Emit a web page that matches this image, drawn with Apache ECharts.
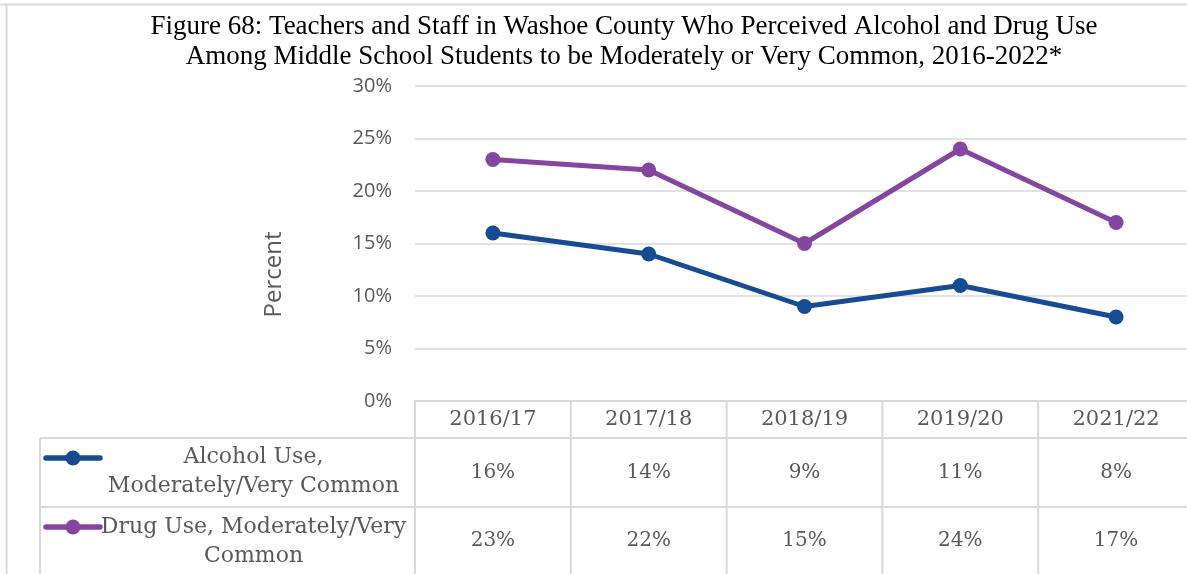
<!DOCTYPE html>
<html>
<head>
<meta charset="utf-8">
<script src="https://cdn.jsdelivr.net/npm/echarts@6/dist/echarts.min.js"></script>
<style>
  html, body { margin: 0; padding: 0; background: #fff; overflow: hidden; }
  /* canvas runs a few pixels past the right edge so the last column is cut off */
  #chart { width: 1194px; height: 574px; }
</style>
</head>
<body>
<div id="chart"></div>
<script>
// School years shown along the x axis / table header
const years = ['2016/17', '2017/18', '2018/19', '2019/20', '2021/22'];
// Percent of teachers and staff rating use as moderately or very common
const alcoholUse = [16, 14, 9, 11, 8];
const drugUse = [23, 22, 15, 24, 17];
// Series names shown in the data table
const alcoholName = ['Alcohol Use,', 'Moderately/Very Common'];
const drugName = ['Drug Use, Moderately/Very', 'Common'];
// Y axis range
const yMin = 0, yMax = 30, yStep = 5;

const BLUE = '#174B93';
const PURPLE = '#8546A0';
const GRID_LINE = '#D9D9D9';
const TEXT = '#595959';
const SERIF = '"DejaVu Serif", serif';
const SANS = '"Open Sans", sans-serif';

const chart = echarts.init(document.getElementById('chart'), null, { renderer: 'canvas' });

const valueAxisRow = (values, offset) => ({
  type: 'category',
  data: years,
  gridIndex: 0,
  position: 'bottom',
  offset: offset,
  axisLine: { show: false },
  axisTick: { show: false },
  splitLine: { show: false },
  axisLabel: {
    margin: 0,
    verticalAlign: 'middle',
    fontFamily: SERIF,
    fontSize: 20,
    color: TEXT,
    formatter: (v, i) => values[i] + '%'
  }
});

chart.setOption({
  animation: false,
  title: {
    text: 'Figure 68: Teachers and Staff in Washoe County Who Perceived Alcohol and Drug Use\nAmong Middle School Students to be Moderately or Very Common, 2016-2022*',
    left: 619,
    top: 7,
    textAlign: 'center',
    textStyle: {
      fontFamily: '"Liberation Serif", serif',
      fontWeight: 'normal',
      fontSize: 27,
      lineHeight: 30,
      color: '#000'
    }
  },
  grid: { left: 415, right: 0, top: 86, height: 315 },
  yAxis: {
    type: 'value',
    min: yMin,
    max: yMax,
    interval: yStep,
    axisLine: { show: false },
    axisTick: { show: false },
    axisLabel: {
      margin: 23,
      fontFamily: SANS,
      fontSize: 20,
      color: TEXT,
      formatter: '{value}%'
    },
    splitLine: { lineStyle: { color: GRID_LINE, width: 1.5 } }
  },
  xAxis: [
    {
      type: 'category',
      data: years,
      gridIndex: 0,
      position: 'bottom',
      axisLine: { show: true, lineStyle: { color: GRID_LINE, width: 2 } },
      axisTick: { show: false },
      axisLabel: {
        margin: 19,
        verticalAlign: 'middle',
        fontFamily: SERIF,
        fontSize: 21,
        color: TEXT
      }
    },
    valueAxisRow(alcoholUse, 72),
    valueAxisRow(drugUse, 140)
  ],
  series: [
    {
      name: 'Alcohol Use, Moderately/Very Common',
      type: 'line',
      data: alcoholUse,
      symbol: 'circle',
      symbolSize: 15,
      color: BLUE,
      lineStyle: { color: BLUE, width: 5 },
      itemStyle: { color: BLUE }
    },
    {
      name: 'Drug Use, Moderately/Very Common',
      type: 'line',
      data: drugUse,
      symbol: 'circle',
      symbolSize: 15,
      color: PURPLE,
      lineStyle: { color: PURPLE, width: 5 },
      itemStyle: { color: PURPLE }
    }
  ]
});

// Data-table rules, y-axis title and row headers, placed from the axis geometry
function drawTable() {
  const W = chart.getWidth();
  const H = chart.getHeight();
  const baseY = chart.convertToPixel({ yAxisIndex: 0 }, 0);
  const topY = chart.convertToPixel({ yAxisIndex: 0 }, yMax);
  const c0 = chart.convertToPixel({ xAxisIndex: 0 }, 0);
  const c1 = chart.convertToPixel({ xAxisIndex: 0 }, 1);
  const band = c1 - c0;
  const plotLeft = c0 - band / 2;
  const tableLeft = 40;
  const headerBottom = baseY + 37;
  const row1Bottom = headerBottom + 69;
  const line = (x1, y1, x2, y2) => ({
    type: 'line',
    silent: true,
    shape: { x1, y1, x2, y2 },
    style: { stroke: GRID_LINE, lineWidth: 2 }
  });
  const els = [];
  // outer frame (top and left)
  els.push(line(0, 4.5, W, 4.5));
  els.push(line(6.5, 4, 6.5, H));
  // y-axis title
  els.push({
    type: 'text', silent: true,
    x: plotLeft - 141, y: (baseY + topY) / 2 + 31,
    rotation: Math.PI / 2,
    style: {
      text: 'Percent',
      fontFamily: SANS,
      fontSize: 24,
      fill: TEXT,
      align: 'center',
      verticalAlign: 'middle'
    }
  });
  // table horizontal rules
  els.push(line(tableLeft, headerBottom, W, headerBottom));
  els.push(line(tableLeft, row1Bottom, W, row1Bottom));
  // table vertical rules
  els.push(line(tableLeft, headerBottom, tableLeft, H));
  for (let i = 0; i <= years.length; i++) {
    const x = plotLeft + i * band;
    els.push(line(x, baseY, x, H));
  }
  // row headers with series keys
  const headerCenter = (tableLeft + plotLeft) / 2 + 26;
  const rows = [
    { color: BLUE, lines: alcoholName, keyY: headerBottom + 20, top: headerBottom + 5 },
    { color: PURPLE, lines: drugName, keyY: row1Bottom + 20, top: row1Bottom + 6 }
  ];
  rows.forEach(r => {
    els.push({
      type: 'line', silent: true,
      shape: { x1: 46, y1: r.keyY, x2: 100, y2: r.keyY },
      style: { stroke: r.color, lineWidth: 5.5, lineCap: 'round' }
    });
    els.push({
      type: 'circle', silent: true,
      shape: { cx: 73, cy: r.keyY, r: 7.5 },
      style: { fill: r.color }
    });
    els.push({
      type: 'text', silent: true,
      x: headerCenter, y: r.top,
      style: {
        text: r.lines.join('\n'),
        fontFamily: SERIF,
        fontSize: 22,
        lineHeight: 29,
        fill: TEXT,
        align: 'center',
        verticalAlign: 'top'
      }
    });
  });
  chart.setOption({ graphic: els });
}
drawTable();
</script>
</body>
</html>
